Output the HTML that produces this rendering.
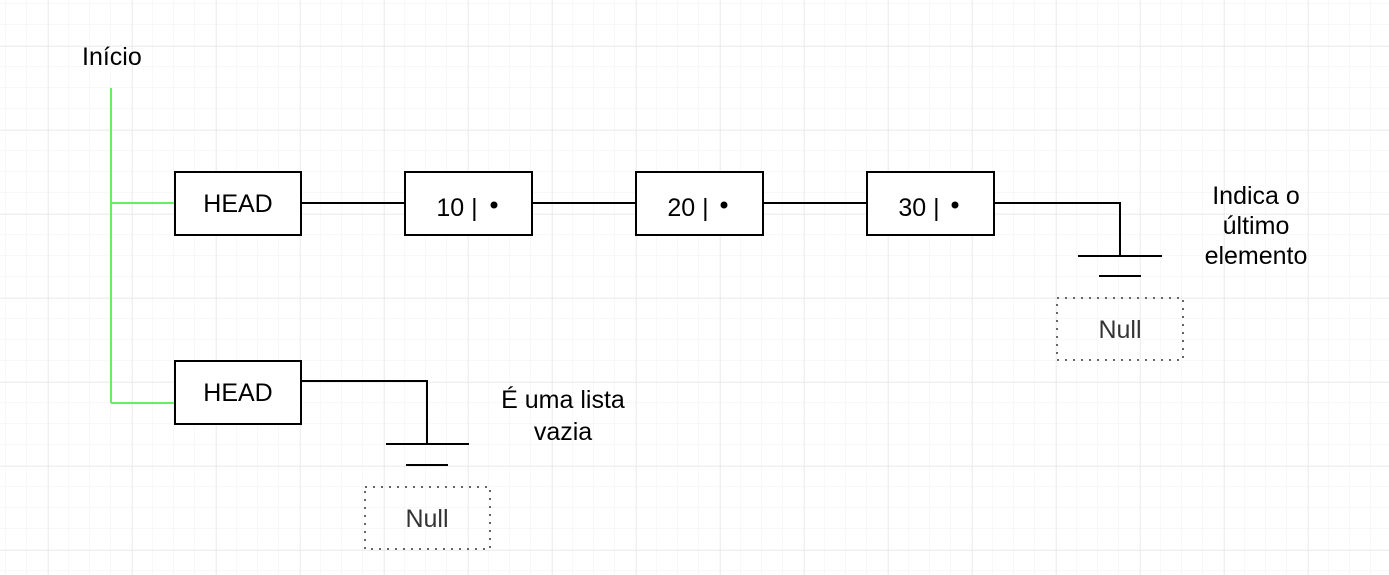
<!DOCTYPE html>
<html><head><meta charset="utf-8"><style>
html,body{margin:0;padding:0;background:#fff;}
svg{display:block;}
text{font-family:"Liberation Sans",Arial,sans-serif;font-size:25px;fill:#000;}
</style></head><body>
<svg width="1389" height="575" viewBox="0 0 1389 575" xmlns="http://www.w3.org/2000/svg">
<defs>
<pattern id="minor" x="6" y="4" width="21" height="21" patternUnits="userSpaceOnUse">
<path d="M21 0V21M0 21H21" stroke="#f0f0f0" stroke-width="1" fill="none"/>
</pattern>
<pattern id="major" x="48.5" y="46.5" width="84" height="84" patternUnits="userSpaceOnUse">
<path d="M0 0V84M0 0H84" stroke="#e2e2e2" stroke-width="1" fill="none"/>
</pattern>
</defs>
<rect width="1389" height="575" fill="url(#minor)"/>
<rect width="1389" height="575" fill="url(#major)"/>

<g stroke="#66ee66" stroke-width="2" fill="none">
<path d="M111 88V403M111 203H175M111 403H175"/>
</g>

<g stroke="#000" stroke-width="2" fill="none">
<path d="M301 203H405M532 203H636M763 203H867M994 203H1120V256"/>
<path d="M1078 256H1162M1099 276H1141"/>
<path d="M301 381H427V444M386 444H469M406 465H448"/>
<rect x="175" y="172" width="126" height="63" fill="#fff"/>
<rect x="405" y="172" width="127" height="63" fill="#fff"/>
<rect x="636" y="172" width="127" height="63" fill="#fff"/>
<rect x="867" y="172" width="127" height="63" fill="#fff"/>
<rect x="175" y="361" width="126" height="63" fill="#fff"/>
</g>
<g stroke="#666" stroke-width="2" stroke-dasharray="2 6" fill="none">
<rect x="1057" y="298" width="126" height="62"/>
<rect x="365" y="487" width="125" height="62"/>
</g>

<text x="82" y="65">Início</text>
<text x="238" y="212" text-anchor="middle">HEAD</text>
<text x="238" y="401" text-anchor="middle">HEAD</text>
<text x="457" y="216" text-anchor="middle">10 |</text><circle cx="494" cy="205" r="3.5" fill="#000"/>
<text x="688" y="216" text-anchor="middle">20 |</text><circle cx="724" cy="205" r="3.5" fill="#000"/>
<text x="919" y="216" text-anchor="middle">30 |</text><circle cx="955" cy="205" r="3.5" fill="#000"/>
<text x="1120" y="338" text-anchor="middle" style="fill:#333">Null</text>
<text x="427" y="527" text-anchor="middle" style="fill:#333">Null</text>
<text x="1256" y="204" text-anchor="middle">Indica o</text>
<text x="1256" y="234" text-anchor="middle">último</text>
<text x="1256" y="264" text-anchor="middle">elemento</text>
<text x="563" y="408" text-anchor="middle">É uma lista</text>
<text x="563" y="440" text-anchor="middle">vazia</text>
</svg>
</body></html>
